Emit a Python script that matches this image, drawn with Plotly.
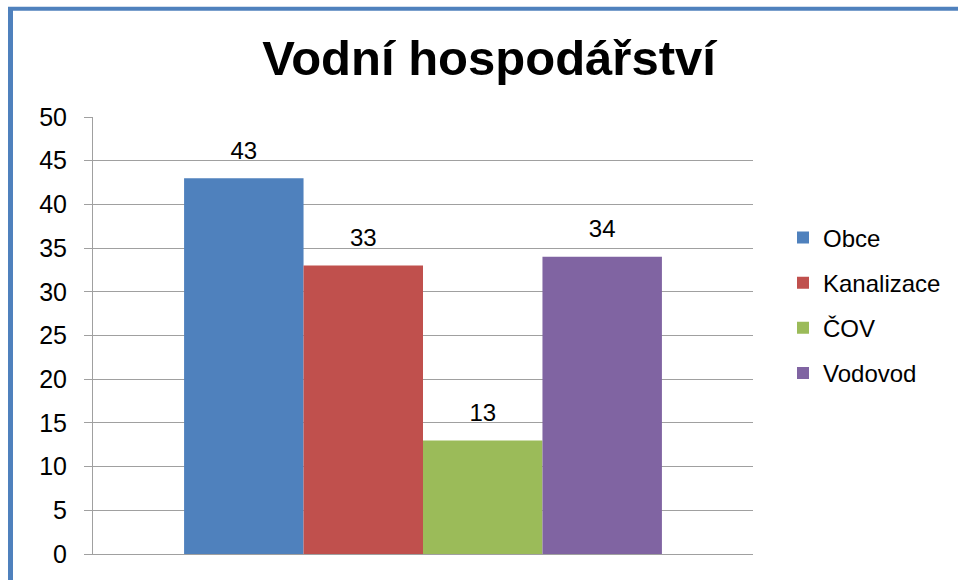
import plotly.graph_objects as go

# Water management overview: counts per category
categories = ["Vodní hospodářství"]
series_names = ["Obce", "Kanalizace", "ČOV", "Vodovod"]
series_values = [43, 33, 13, 34]
series_colors = ["#4F81BD", "#C0504D", "#9BBB59", "#8064A2"]
y_ticks = [0, 5, 10, 15, 20, 25, 30, 35, 40, 45, 50]

FONT = "Arial, Liberation Sans, sans-serif"
GRID = "#A0A0A0"
FRAME = "#4F81BD"

fig = go.Figure()

for name, val, col in zip(series_names, series_values, series_colors):
    fig.add_trace(go.Bar(
        x=categories, y=[val], name=name,
        marker=dict(color=col, line=dict(width=0)),
        offsetgroup=name, legendgroup=name,
        hoverinfo="skip",
    ))

# value labels aligned over each bar of the group
for name, val in zip(series_names, series_values):
    fig.add_trace(go.Scatter(
        x=categories, y=[val], mode="markers+text",
        text=[str(val)], textposition="top center",
        textfont=dict(family=FONT, size=24, color="#000000"),
        marker=dict(size=20, opacity=0),
        offsetgroup=name, legendgroup=name,
        showlegend=False, hoverinfo="skip",
        cliponaxis=False,
    ))

W, H = 958, 580
L, R, T, B = 93, 205, 117, 23
pw, ph = W - L - R, H - T - B

def px_x(p):
    return (p - L) / pw

def px_y(p):
    return (H - B - p) / ph

fig.update_layout(
    width=W, height=H,
    margin=dict(l=L, r=R, t=T, b=B, pad=0),
    paper_bgcolor="white", plot_bgcolor="white",
    barmode="group", bargap=0.276, bargroupgap=0,
    scattermode="group", scattergap=0.276,
    font=dict(family=FONT, color="#000000"),
    title=dict(
        text="<b>Vodní hospodářství</b>",
        font=dict(family=FONT, size=49, color="#000000"),
        x=489 / W, xanchor="center", xref="container",
        y=1 - 58 / H, yanchor="middle", yref="container",
    ),
    showlegend=True,
    legend=dict(
        x=px_x(783), xanchor="left",
        y=px_y(216), yanchor="top",
        font=dict(family=FONT, size=24, color="#000000"),
        tracegroupgap=11, traceorder="grouped",
        bgcolor="rgba(0,0,0,0)", borderwidth=0,
        itemclick=False, itemdoubleclick=False,
    ),
    xaxis=dict(
        showticklabels=False, ticks="", showgrid=False,
        showline=True, linecolor=GRID, linewidth=1,
        zeroline=False, fixedrange=True,
    ),
    yaxis=dict(
        range=[0, 50], tickvals=y_ticks,
        ticks="outside", ticklen=8, tickcolor=GRID, tickwidth=1,
        ticklabelstandoff=12,
        tickfont=dict(family=FONT, size=25, color="#000000"),
        showgrid=True, gridcolor=GRID, gridwidth=1,
        showline=True, linecolor=GRID, linewidth=1,
        zeroline=False, fixedrange=True,
    ),
    shapes=[
        dict(type="line", xref="paper", yref="paper",
             x0=px_x(10.5), x1=px_x(10.5), y0=px_y(8), y1=px_y(600),
             line=dict(color=FRAME, width=5), layer="above"),
        dict(type="line", xref="paper", yref="paper",
             x0=px_x(8), x1=px_x(980), y0=px_y(8), y1=px_y(8),
             line=dict(color=FRAME, width=4), layer="above"),
    ],
)

fig.write_html("out.html", config=dict(displayModeBar=False))
